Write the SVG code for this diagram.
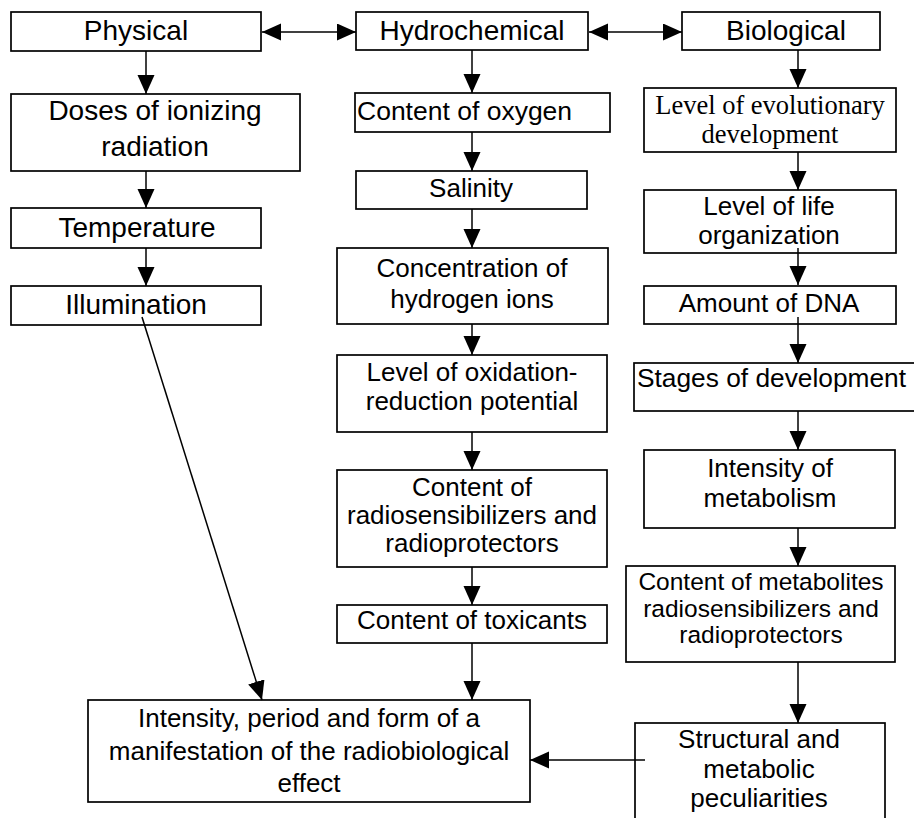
<svg xmlns="http://www.w3.org/2000/svg" width="914" height="818" viewBox="0 0 914 818">
<defs>
<marker id="ah" markerUnits="userSpaceOnUse" markerWidth="20" markerHeight="18" refX="19" refY="8.5" orient="auto-start-reverse" viewBox="0 0 20 18">
<path d="M0,0 L19,8.5 L0,17 Z" fill="#000"/>
</marker>
</defs>
<style>
.b{fill:#fff;stroke:#000;stroke-width:1.7}
.t{font-family:"Liberation Sans",Arial,sans-serif;font-size:26px;fill:#000;text-anchor:middle}
.p{font-size:28px}
.s{font-family:"Liberation Serif","Times New Roman",serif;font-size:26.5px}
.m{font-size:24.5px}
.c line{stroke:#000;stroke-width:1.5;marker-end:url(#ah)}
</style>
<rect width="914" height="818" fill="#fff"/>
<g id="physical"><rect class="b" x="11" y="12" width="250" height="39"/><text class="t p" x="136" y="40">Physical</text></g>
<g id="hydrochemical"><rect class="b" x="356" y="12" width="232" height="38"/><text class="t p" x="472" y="40">Hydrochemical</text></g>
<g id="biological"><rect class="b" x="682" y="12" width="198" height="38"/><text class="t p" x="786" y="40">Biological</text></g>
<g id="doses"><rect class="b" x="11" y="94" width="289" height="77"/><text class="t p" x="155" y="120">Doses of ionizing</text><text class="t p" x="155" y="156">radiation</text></g>
<g id="temperature"><rect class="b" x="11" y="208" width="250" height="40"/><text class="t p" x="137" y="237">Temperature</text></g>
<g id="illumination"><rect class="b" x="11" y="286" width="250" height="39"/><text class="t p" x="136" y="314">Illumination</text></g>
<g id="oxygen"><rect class="b" x="355" y="93" width="255" height="39"/><text class="t" style="text-anchor:start;font-size:26.5px" x="357" y="120">Content of oxygen</text></g>
<g id="salinity"><rect class="b" x="356" y="171" width="231" height="38"/><text class="t" x="471" y="197">Salinity</text></g>
<g id="concentration"><rect class="b" x="337" y="248" width="271" height="76"/><text class="t" x="472" y="277">Concentration of</text><text class="t" x="472" y="308">hydrogen ions</text></g>
<g id="oxidation"><rect class="b" x="337" y="355" width="270" height="77"/><text class="t" x="472" y="381">Level of oxidation-</text><text class="t" x="472" y="410">reduction potential</text></g>
<g id="radiosens"><rect class="b" x="337" y="470" width="270" height="97"/><text class="t" x="472" y="496">Content of</text><text class="t" x="472" y="524">radiosensibilizers and</text><text class="t" x="472" y="552">radioprotectors</text></g>
<g id="toxicants"><rect class="b" x="337" y="605" width="270" height="38"/><text class="t" x="472" y="629">Content of toxicants</text></g>
<g id="evolutionary"><rect class="b" x="644" y="88" width="252" height="64"/><text class="t s" x="770" y="114">Level of evolutionary</text><text class="t s" x="770" y="143">development</text></g>
<g id="life"><rect class="b" x="644" y="190" width="252" height="63"/><text class="t" x="769" y="215">Level of life</text><text class="t" x="769" y="244">organization</text></g>
<g id="dna"><rect class="b" x="644" y="286" width="252" height="38"/><text class="t" x="769" y="312">Amount of DNA</text></g>
<g id="stages"><rect class="b" x="634" y="363" width="300" height="48"/><text class="t" style="text-anchor:start;font-size:26.3px" x="637" y="387">Stages of development</text></g>
<g id="metabolism"><rect class="b" x="644" y="450" width="251" height="78"/><text class="t" x="770" y="477">Intensity of</text><text class="t" x="770" y="507">metabolism</text></g>
<g id="metabolites"><rect class="b" x="626" y="566" width="269" height="96"/><text class="t m" x="761" y="590">Content of metabolites</text><text class="t m" x="761" y="617">radiosensibilizers and</text><text class="t m" x="761" y="643">radioprotectors</text></g>
<g id="structural"><rect class="b" x="635" y="723" width="250" height="110"/><text class="t" x="759" y="748">Structural and</text><text class="t" x="759" y="778">metabolic</text><text class="t" x="759" y="807">peculiarities</text></g>
<g id="effect"><rect class="b" x="88" y="700" width="442" height="102"/><text class="t" x="309" y="727">Intensity, period and form of a</text><text class="t" x="309" y="760">manifestation of the radiobiological</text><text class="t" x="309" y="792">effect</text></g>
<g id="connectors" class="c">
<line x1="262" y1="32" x2="356" y2="32" style="marker-start:url(#ah)"/>
<line x1="589" y1="32" x2="682" y2="32" style="marker-start:url(#ah)"/>
<line x1="146" y1="51" x2="146" y2="94"/>
<line x1="146" y1="171" x2="146" y2="208"/>
<line x1="146" y1="248" x2="146" y2="286"/>
<line x1="142" y1="317" x2="262" y2="700"/>
<line x1="472" y1="50" x2="472" y2="93"/>
<line x1="472" y1="132" x2="472" y2="171"/>
<line x1="472" y1="209" x2="472" y2="248"/>
<line x1="472" y1="324" x2="472" y2="355"/>
<line x1="472" y1="432" x2="472" y2="470"/>
<line x1="472" y1="567" x2="472" y2="605"/>
<line x1="472" y1="643" x2="472" y2="700"/>
<line x1="798" y1="50" x2="798" y2="88"/>
<line x1="798" y1="152" x2="798" y2="190"/>
<line x1="798" y1="248" x2="798" y2="285"/>
<line x1="798" y1="317" x2="798" y2="363"/>
<line x1="798" y1="411" x2="798" y2="450"/>
<line x1="798" y1="528" x2="798" y2="566"/>
<line x1="798" y1="662" x2="798" y2="723"/>
<line x1="645" y1="760" x2="530" y2="760"/>
</g>
</svg>
